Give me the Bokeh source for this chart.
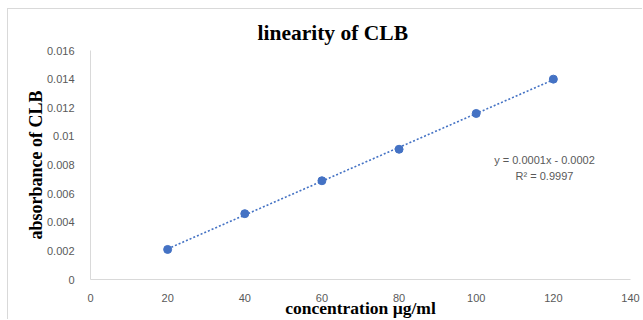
import numpy as np
from bokeh.plotting import figure
from bokeh.models import (ColumnDataSource, FixedTicker, CustomJSTickFormatter, Label,
                          Range1d)
from bokeh.embed import file_html
from bokeh.resources import INLINE

# ---- data ----
concentration = [20, 40, 60, 80, 100, 120]
absorbance = [0.0021, 0.0046, 0.0069, 0.0091, 0.0116, 0.0140]
x_ticks = [0, 20, 40, 60, 80, 100, 120, 140]
y_ticks = [0, 0.002, 0.004, 0.006, 0.008, 0.01, 0.012, 0.014, 0.016]
title_text = "linearity of CLB"
x_label = "concentration µg/ml"
y_label = "absorbance of CLB"
eq_text = "y = 0.0001x - 0.0002"
r2_text = "R² = 0.9997"

BLUE = "#4472C4"
GREY = "#595959"
AXIS = "#d9d9d9"

# figure is placed at page offset (8, 9) inside a thin grey chart border
OX, OY = 8, 9
W, H = 635, 311
FL, FR, FT, FB = 90 - OX, 630 - OX, 50 - OY, 280 - OY  # frame edges, figure pixels

p = figure(width=W, height=H, output_backend="svg", toolbar_location=None,
           x_range=Range1d(0, 140), y_range=Range1d(0, 0.016),
           min_border_left=FL, min_border_right=W - FR,
           min_border_top=FT, min_border_bottom=H - FB)
p.styles = {"position": "absolute", "left": "7px", "top": "8px",
            "border-top": "1px solid #d9d9d9", "border-left": "1px solid #d9d9d9"}
p.outline_line_color = None
p.xgrid.visible = False
p.ygrid.visible = False
p.background_fill_color = "white"
p.border_fill_color = "white"

# title
p.title.text = title_text
p.title.align = "left"
p.title.offset = 167
p.title.standoff = 11
p.title.text_font = "Liberation Serif"
p.title.text_font_style = "bold"
p.title.text_font_size = "21.5px"
p.title.text_color = "black"

for ax in (p.xaxis[0], p.yaxis[0]):
    ax.axis_line_color = AXIS
    ax.axis_line_width = 1
    ax.major_tick_line_color = None
    ax.minor_tick_line_color = None
    ax.major_label_text_color = GREY
    ax.major_label_text_font = "Liberation Sans"
    ax.major_label_text_font_size = "11px"
    ax.axis_label_text_font = "Liberation Serif"
    ax.axis_label_text_font_style = "bold"
    ax.axis_label_text_color = "black"

p.xaxis.axis_label_text_font_size = "17.5px"
p.yaxis.axis_label_text_font_size = "18px"
p.xaxis.axis_label = x_label
p.yaxis.axis_label = y_label
p.xaxis.axis_label_standoff = -7
p.yaxis.axis_label_standoff = -2

p.xaxis.ticker = FixedTicker(ticks=x_ticks)
p.yaxis.ticker = FixedTicker(ticks=y_ticks)
p.yaxis.formatter = CustomJSTickFormatter(code="return String(parseFloat(tick.toFixed(4)));")
p.xaxis.major_label_standoff = 8
p.yaxis.major_label_standoff = 10

# trendline from linear fit of the data
slope, intercept = np.polyfit(concentration, absorbance, 1)
tx = [min(concentration), max(concentration)]
ty = [slope * v + intercept for v in tx]
p.line(tx, ty, line_color=BLUE, line_width=1.6, line_dash="2 2")

src = ColumnDataSource(dict(x=concentration, y=absorbance))
p.scatter("x", "y", source=src, size=8, fill_color=BLUE, line_color=BLUE)

# regression equation (inside plot area)
def dx(px):
    return (px - OX - FL) * 140 / (FR - FL)

def dy(py):
    return (FB - (py - OY)) * 0.016 / (FB - FT)

p.add_layout(Label(x=dx(544), y=dy(160), text=eq_text, text_align="center",
                   text_baseline="middle", text_font="Liberation Sans",
                   text_font_size="11px", text_color=GREY))
p.add_layout(Label(x=dx(544), y=dy(176), text=r2_text, text_align="center",
                   text_baseline="middle", text_font="Liberation Sans",
                   text_font_size="11px", text_color=GREY))

open("out.html", "w").write(file_html(p, INLINE))
